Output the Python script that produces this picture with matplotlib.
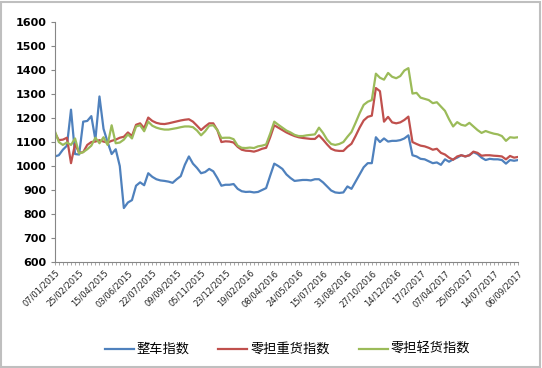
import numpy as np
import matplotlib
matplotlib.use('Agg')
from matplotlib import pyplot as plt
from matplotlib.patches import Rectangle

plt.rcParams['font.family'] = ['Noto Sans CJK SC', 'DejaVu Sans']

# -------------------------------------------------------------------------------
# data (index values)

tick_labels = ['07/01/2015', '25/02/2015', '15/04/2015', '03/06/2015', '22/07/2015',
               '09/09/2015', '05/11/2015', '23/12/2015', '19/02/2016', '08/04/2016',
               '24/05/2016', '15/07/2016', '31/08/2016', '27/10/2016', '14/12/2016',
               '17/2/2017', '07/04/2017', '25/05/2017', '14/07/2017', '06/09/2017']
label_step = 6

whole_truck = [
    1040, 1045, 1068, 1085, 1235, 1050, 1048, 1185, 1188, 1208,
    1110, 1290, 1155, 1100, 1050, 1070, 1000, 825, 848, 858,
    918, 932, 920, 970, 955, 945, 940, 938, 935, 930,
    945, 958, 1005, 1040, 1010, 992, 970, 975, 988, 978,
    950, 918, 922, 922, 925, 905, 895, 892, 893, 890,
    892, 900, 908, 960, 1010, 1000, 988, 965, 950, 938,
    940, 942, 942, 940, 945, 945, 932, 915, 898, 890,
    888, 890, 915, 905, 935, 965, 995, 1012, 1012, 1120,
    1100, 1115, 1102, 1105, 1105, 1108, 1115, 1128, 1045, 1040,
    1030, 1028, 1020, 1012, 1015, 1005, 1028, 1018, 1028, 1035,
    1045, 1040, 1045, 1058, 1050, 1035, 1025, 1030, 1028, 1028,
    1025, 1010, 1025, 1022, 1025]

ltl_heavy = [
    1140, 1108, 1110, 1118, 1012, 1092, 1055, 1058, 1088, 1100,
    1102, 1108, 1102, 1098, 1105, 1110, 1118, 1122, 1140, 1125,
    1172, 1178, 1158, 1202, 1188, 1180, 1176, 1175, 1178, 1182,
    1186, 1190, 1193, 1195, 1185, 1168, 1150, 1165, 1178, 1178,
    1150, 1100, 1103, 1102, 1098, 1080, 1068, 1064, 1063, 1060,
    1065, 1072, 1076, 1120, 1170, 1160, 1150, 1140, 1132, 1125,
    1120, 1117, 1115, 1113, 1113, 1128, 1110, 1090, 1072, 1065,
    1063, 1063, 1080, 1093, 1125, 1160, 1190, 1205, 1210, 1325,
    1312, 1185, 1205, 1182, 1178, 1182, 1192, 1206, 1100, 1092,
    1085, 1082, 1076, 1068, 1072, 1055, 1048, 1035, 1026, 1040,
    1045, 1040, 1045, 1060, 1055, 1043, 1045, 1045, 1043, 1042,
    1040, 1028, 1042, 1035, 1038]

ltl_light = [
    1147, 1100, 1088, 1098, 1088, 1115, 1052, 1058, 1070, 1085,
    1118, 1095, 1120, 1088, 1170, 1095, 1098, 1110, 1132, 1115,
    1165, 1170, 1145, 1185, 1168, 1160, 1155, 1152, 1152, 1155,
    1158, 1162, 1165, 1165, 1162, 1148, 1128, 1145, 1168, 1170,
    1150, 1117, 1118, 1118, 1112, 1085, 1076, 1075, 1077, 1075,
    1082, 1085, 1090, 1135, 1185, 1172, 1160, 1148, 1140, 1130,
    1125, 1125, 1128, 1130, 1132, 1160, 1138, 1110, 1092, 1088,
    1092, 1100, 1122, 1142, 1180, 1220, 1255, 1268, 1275, 1385,
    1368, 1360, 1388, 1372, 1366, 1375, 1398, 1408, 1302, 1305,
    1285, 1280, 1275, 1262, 1266, 1248, 1230, 1195, 1165, 1183,
    1172, 1168, 1180, 1165, 1150, 1138, 1146, 1140, 1135, 1132,
    1125, 1105, 1120, 1118, 1120]

series = [('整车指数', whole_truck, '#4F81BD'),
          ('零担重货指数', ltl_heavy, '#C0504D'),
          ('零担轻货指数', ltl_light, '#9BBB59')]

# -------------------------------------------------------------------------------
# plot

fig = plt.figure(figsize=(5.42, 3.68), dpi=100)
ax = fig.add_axes([0.101, 0.288, 0.855, 0.652])

x = np.arange(len(whole_truck))
for name, values, color in series:
    ax.plot(x, values, color=color, linewidth=1.6, label=name)

ax.set_xlim(0, len(x) - 1)
ax.set_ylim(600, 1600)
ax.set_yticks(range(600, 1700, 100))
ax.tick_params(axis='y', labelsize=8, length=3, color='#868686', pad=3)
for t in ax.get_yticklabels():
    t.set_fontweight('bold')
    t.set_family('DejaVu Sans')

ax.set_xticks(x)
labels = [''] * len(x)
for i, lab in enumerate(tick_labels):
    labels[i * label_step] = lab
ax.set_xticklabels(labels, rotation=45, ha='right', rotation_mode='anchor',
                   fontsize=6, family='DejaVu Sans', color='#222222')
ax.tick_params(axis='x', length=2.5, width=0.5, color='#868686', pad=2)

for side in ['top', 'right']:
    ax.spines[side].set_visible(False)
for side in ['left', 'bottom']:
    ax.spines[side].set_color('#868686')
    ax.spines[side].set_linewidth(0.8)

fig.legend(loc='lower center', bbox_to_anchor=(0.53, 0.0), ncol=3, frameon=False,
           fontsize=9.5, handlelength=2.2, columnspacing=2.2, handletextpad=0.2)

fig.patches.append(Rectangle((0.002, 0.003), 0.994, 0.992, transform=fig.transFigure,
                             fill=False, edgecolor='#BFBFBF', linewidth=1.5))

fig.savefig('out.png', dpi=100)
